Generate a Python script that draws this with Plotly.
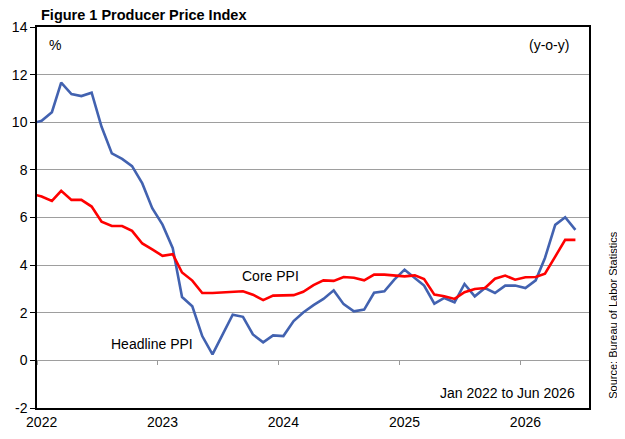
import pandas as pd
import plotly.graph_objects as go

# monthly, Dec 2021 (clipped at left edge) to Jun 2026
months = pd.date_range("2021-12-01", periods=55, freq="MS") + pd.Timedelta(days=14)

headline = [9.95,
            10.06, 10.42, 11.66, 11.18, 11.10, 11.24, 9.81, 8.69, 8.46, 8.16, 7.43, 6.39,
            5.70, 4.71, 2.66, 2.27, 1.02, 0.25, 1.09, 1.92, 1.83, 1.09, 0.76, 1.05,
            1.02, 1.65, 2.01, 2.32, 2.58, 2.94, 2.36, 2.06, 2.13, 2.84, 2.90, 3.39,
            3.81, 3.46, 3.14, 2.38, 2.62, 2.44, 3.21, 2.69, 3.04, 2.83, 3.14, 3.14,
            3.04, 3.36, 4.30, 5.69, 6.01, 5.48]

core = [7.00,
        6.88, 6.70, 7.12, 6.74, 6.74, 6.46, 5.82, 5.64, 5.64, 5.44, 4.91, 4.66,
        4.39, 4.46, 3.69, 3.35, 2.83, 2.83, 2.85, 2.86, 2.90, 2.76, 2.53, 2.72,
        2.72, 2.74, 2.88, 3.16, 3.36, 3.34, 3.50, 3.47, 3.36, 3.60, 3.60, 3.58,
        3.53, 3.57, 3.42, 2.76, 2.69, 2.58, 2.86, 3.00, 3.04, 3.43, 3.56, 3.39,
        3.49, 3.50, 3.64, 4.36, 5.06, 5.06]

years = ["2022", "2023", "2024", "2025", "2026"]
year_starts = [f"{y}-01-01" for y in years]
year_labels_at = [f"{y}-01-15" for y in years]

y_ticks = list(range(-2, 15, 2))
y_ticktext = [str(v) for v in y_ticks]

font = "Liberation Sans, Arial, sans-serif"

fig = go.Figure()
fig.add_trace(go.Scatter(x=months, y=headline, mode="lines", name="Headline PPI",
                         line=dict(color="#4262B0", width=2.6)))
fig.add_trace(go.Scatter(x=months, y=core, mode="lines", name="Core PPI",
                         line=dict(color="#FF0000", width=2.6)))
# empty trace so the tick-mark axis at y=0 gets drawn
fig.add_trace(go.Scatter(x=[], y=[], xaxis="x2", showlegend=False, hoverinfo="skip"))

# page body has an 8px margin, so the figure is 8px smaller and margins shifted
fig.update_layout(
    width=617, height=431,
    margin=dict(l=29, r=36, t=19, b=31),
    paper_bgcolor="white", plot_bgcolor="white",
    showlegend=False,
    font=dict(family=font, size=14, color="black"),
    xaxis=dict(type="date", range=["2022-01-01", "2026-07-26"], automargin=False,
               tickvals=year_labels_at, ticktext=years, ticks="",
               showgrid=False, zeroline=False,
               showline=True, linecolor="black", linewidth=1.5, mirror=True,
               tickfont=dict(size=14)),
    xaxis2=dict(type="date", overlaying="x", matches="x", anchor="free",
                position=0.125, side="bottom", automargin=False,
                tickvals=year_starts, showticklabels=False,
                ticks="outside", ticklen=4, tickcolor="#999999", tickwidth=1,
                showgrid=False, zeroline=False, showline=False),
    yaxis=dict(range=[-2, 14], tickvals=y_ticks, ticktext=y_ticktext, automargin=False,
               showgrid=True, gridcolor="#9E9E9E", gridwidth=1,
               zeroline=True, zerolinecolor="#9E9E9E", zerolinewidth=1,
               showline=True, linecolor="black", linewidth=1.5, mirror=True,
               ticks="outside", ticklen=5, tickcolor="black",
               tickfont=dict(size=14)),
)

notes = [
    dict(text="<b>Figure 1 Producer Price Index</b>", xref="paper", yref="paper",
         x=0.005, y=1.031, xanchor="left", yanchor="middle", borderpad=0,
         font=dict(size=14.5)),
    dict(text="%", xref="paper", yref="paper", x=0.018, y=0.953,
         xanchor="left", yanchor="middle"),
    dict(text="(y-o-y)", xref="paper", yref="paper", x=0.968, y=0.953,
         xanchor="right", yanchor="middle"),
    dict(text="Core PPI", x="2023-12-08", y=3.56, xanchor="center", yanchor="middle"),
    dict(text="Headline PPI", x="2022-12-14", y=0.67, xanchor="center", yanchor="middle"),
    dict(text="Jan 2022 to Jun 2026", xref="paper", yref="paper", x=0.978, y=0.039,
         xanchor="right", yanchor="middle"),
    dict(text="Source: Bureau of Labor Statistics", xref="paper", yref="paper",
         x=1.043, y=0.244, xanchor="center", yanchor="middle", textangle=-90,
         font=dict(size=11)),
]
for n in notes:
    n.setdefault("showarrow", False)
    fig.add_annotation(**n)

fig.write_html("out.html")
